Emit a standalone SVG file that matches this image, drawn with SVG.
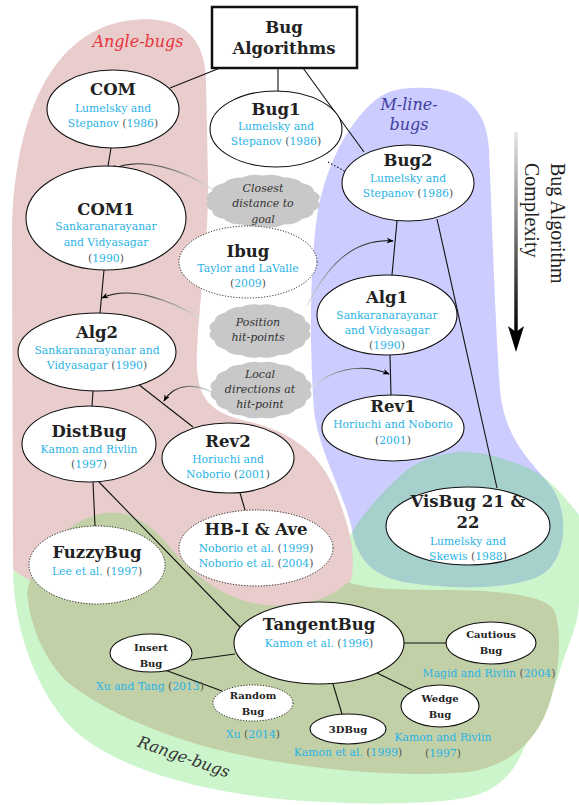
<svg xmlns="http://www.w3.org/2000/svg" xmlns:xlink="http://www.w3.org/1999/xlink" width="579" height="805" viewBox="0 0 579 805">
  <style>
    .n ellipse { fill: #fff; stroke: #111; stroke-width: 1.1; }
    .n ellipse.dot { stroke-dasharray: 1.1 1.7; stroke-width: 1; }
    .t { font-family: "DejaVu Serif", serif; font-weight: bold; fill: #222; text-anchor: middle; font-size: 16.5px; }
    .ts { font-size: 10px; }
    .c { font-family: "DejaVu Serif", serif; font-size: 10.8px; fill: #2ab3e6; text-anchor: middle; }
    .p { fill: #555; }
    .cl { font-family: "DejaVu Serif", serif; font-style: italic; font-size: 11px; fill: #333; text-anchor: middle; }
    .reg { font-family: "DejaVu Serif", serif; font-style: italic; font-size: 16px; text-anchor: middle; }
    .edge line { stroke: #111; stroke-width: 1.1; }
    .hint { fill: none; stroke-width: 1.1; marker-end: url(#ah); }
    .cloud { fill: #c8c8c8; }
  </style>
  <defs>
    <marker id="ah" viewBox="0 0 10 10" refX="9" refY="5" markerWidth="7" markerHeight="7" orient="auto" markerUnits="userSpaceOnUse">
      <path d="M0,1 L10,5 L0,9 L3,5 Z" fill="#000"/>
    </marker>
    <!-- scalloped blob, unit radius 100, 16 shallow bumps -->
    <path id="cloudShape" d="M100,0 Q108.9,21.7 92.39,38.27 Q92.3,61.7 70.71,70.71 Q61.7,92.3 38.27,92.39 Q21.7,108.9 0,100 Q-21.7,108.9 -38.27,92.39 Q-61.7,92.3 -70.71,70.71 Q-92.3,61.7 -92.39,38.27 Q-108.9,21.7 -100,0 Q-108.9,-21.7 -92.39,-38.27 Q-92.3,-61.7 -70.71,-70.71 Q-61.7,-92.3 -38.27,-92.39 Q-21.7,-108.9 0,-100 Q21.7,-108.9 38.27,-92.39 Q61.7,-92.3 70.71,-70.71 Q92.3,-61.7 92.39,-38.27 Q108.9,-21.7 100,0 Z"/>
    <path id="greenShape" d="M13,572 C14,620 30,680 67,723 C100,760 180,790 290,800 C360,805 430,805 470,797 C500,790 515,770 523,750 C540,720 555,690 560,670 C570,640 579,623 579,600 L579,515 C560,490 540,470 520,465 C495,455 470,450 457,452 C430,455 410,465 398,478 C380,495 360,515 345,545 L180,520 Z"/>
    <path id="blueShape" d="M415,88 C460,86 487,105 489,150 C492,220 495,320 500,390 C505,440 530,460 550,485 C568,508 568,550 548,570 C525,590 460,590 410,583 C375,578 357,560 352,530 C345,495 318,450 314,410 C309,340 310,260 318,210 C328,160 350,120 378,98 C390,90 402,88 415,88 Z"/>
    <clipPath id="clipBlue"><use xlink:href="#blueShape"/></clipPath>
    <linearGradient id="g1" gradientUnits="userSpaceOnUse" x1="213" y1="190" x2="111" y2="170"><stop offset="0" stop-color="#e4e4e4"/><stop offset="0.6" stop-color="#555"/><stop offset="1" stop-color="#000"/></linearGradient>
    <linearGradient id="g2" gradientUnits="userSpaceOnUse" x1="200" y1="318" x2="102" y2="298"><stop offset="0" stop-color="#e4e4e4"/><stop offset="0.6" stop-color="#555"/><stop offset="1" stop-color="#000"/></linearGradient>
    <linearGradient id="g3" gradientUnits="userSpaceOnUse" x1="307" y1="306" x2="393" y2="241"><stop offset="0" stop-color="#e4e4e4"/><stop offset="0.6" stop-color="#555"/><stop offset="1" stop-color="#000"/></linearGradient>
    <linearGradient id="g4" gradientUnits="userSpaceOnUse" x1="213" y1="393" x2="164" y2="401"><stop offset="0" stop-color="#e4e4e4"/><stop offset="0.6" stop-color="#555"/><stop offset="1" stop-color="#000"/></linearGradient>
    <linearGradient id="g5" gradientUnits="userSpaceOnUse" x1="312" y1="388" x2="389" y2="374"><stop offset="0" stop-color="#e4e4e4"/><stop offset="0.6" stop-color="#555"/><stop offset="1" stop-color="#000"/></linearGradient>
    <linearGradient id="gArrow" gradientUnits="userSpaceOnUse" x1="516" y1="132" x2="516" y2="335"><stop offset="0" stop-color="#e6e6e6"/><stop offset="1" stop-color="#000"/></linearGradient>
  </defs>

  <!-- family regions -->
  <g id="regions">
    <use xlink:href="#greenShape" fill="#ccf5cc"/>
    <path id="angle-region" fill="#e9cccc" d="M13,570 L12,240 C12,130 45,35 125,21 C185,12 205,40 206,80 L208,180 C209,240 199,300 197,350 C195,395 205,412 250,422 C295,432 322,458 335,490 C345,515 356,545 352,575 C348,600 320,612 300,612 L200,620 L60,600 Z"/>
    <path id="range-core" fill="#c1d0a6" d="M27,592 C35,555 65,522 100,514 C128,508 148,522 168,545 C190,572 222,600 265,605 C300,609 333,598 348,582 C365,589 400,590 440,590 C500,590 548,595 555,612 C565,645 555,700 540,725 C525,750 505,765 470,772 C400,778 290,770 200,745 C140,727 95,705 65,680 C42,655 30,625 27,592 Z"/>
    <use xlink:href="#blueShape" fill="#ccccff"/>
    <use xlink:href="#greenShape" fill="#a6d0cc" clip-path="url(#clipBlue)"/>
    <text class="reg" x="138" y="47" fill="#e8333c">Angle-bugs</text>
    <text class="reg" x="409" y="110" fill="#4040a0" font-size="15.5">M-line-</text>
    <text class="reg" x="409" y="130" fill="#4040a0" font-size="15.5">bugs</text>
    <text class="reg" fill="#333" transform="translate(182,762) rotate(19)">Range-bugs</text>
  </g>

  <!-- complexity axis -->
  <g id="axis">
    <line x1="516" y1="132" x2="516" y2="334" stroke="url(#gArrow)" stroke-width="3.5"/>
    <path d="M516,352 L508,326 L516,332 L524,326 Z" fill="#000"/>
    <text font-family="Liberation Serif, serif" font-size="20" fill="#222" transform="translate(551,163) rotate(90)">Bug Algorithm</text>
    <text font-family="Liberation Serif, serif" font-size="20" fill="#222" transform="translate(525,163) rotate(90)">Complexity</text>
  </g>

  <!-- connectors -->
  <g id="connectors" class="edge">
    <line x1="220" y1="68" x2="170" y2="88"/>
    <line x1="278" y1="68" x2="278" y2="91"/>
    <line x1="303" y1="68" x2="364" y2="152"/>
    <line x1="328" y1="162" x2="346" y2="172" stroke-dasharray="1.5 2"/>
    <line x1="111" y1="148" x2="108" y2="166"/>
    <line x1="104" y1="270" x2="100" y2="313"/>
    <line x1="93" y1="391" x2="92" y2="406"/>
    <line x1="138" y1="384" x2="193" y2="427"/>
    <line x1="397" y1="221" x2="392" y2="275"/>
    <line x1="390" y1="355" x2="391" y2="395"/>
    <line x1="437" y1="219" x2="497" y2="488"/>
    <line x1="93" y1="482" x2="95" y2="526"/>
    <line x1="99" y1="482" x2="240" y2="627"/>
    <line x1="240" y1="493" x2="245" y2="510"/>
    <line x1="235" y1="654" x2="191" y2="660"/>
    <line x1="165" y1="670" x2="222" y2="691"/>
    <line x1="404" y1="643" x2="446" y2="643"/>
    <line x1="377" y1="673" x2="412" y2="690"/>
    <line x1="333" y1="684" x2="342" y2="714"/>
    <path class="hint" stroke="url(#g1)" d="M213,190 C185,170 140,155 111,170"/>
    <path class="hint" stroke="url(#g2)" d="M200,318 C170,300 130,285 102,298"/>
    <path class="hint" stroke="url(#g3)" d="M307,306 C325,270 350,238 393,241"/>
    <path class="hint" stroke="url(#g4)" d="M213,393 C198,384 175,382 164,401"/>
    <path class="hint" stroke="url(#g5)" d="M312,388 C330,370 360,362 389,374"/>
  </g>

  <!-- technique clouds -->
  <g id="cloud-closest">
    <use xlink:href="#cloudShape" class="cloud" transform="translate(263,201) scale(0.55,0.255)"/>
    <text class="cl" x="263" y="192">Closest</text>
    <text class="cl" x="263" y="207">distance to</text>
    <text class="cl" x="263" y="223">goal</text>
  </g>
  <g id="cloud-position">
    <use xlink:href="#cloudShape" class="cloud" transform="translate(260,331) scale(0.49,0.26)"/>
    <text class="cl" x="258" y="326">Position</text>
    <text class="cl" x="258" y="341">hit-points</text>
  </g>
  <g id="cloud-local">
    <use xlink:href="#cloudShape" class="cloud" transform="translate(261,390) scale(0.49,0.275)"/>
    <text class="cl" x="260" y="378">Local</text>
    <text class="cl" x="260" y="393">directions at</text>
    <text class="cl" x="260" y="408">hit-point</text>
  </g>

  <!-- nodes -->
  <g id="root">
    <rect x="212" y="7" width="145" height="61" fill="#fff" stroke="#111" stroke-width="2.5"/>
    <text class="t" x="284" y="33" font-size="17">Bug</text>
    <text class="t" x="284" y="54" font-size="17">Algorithms</text>
  </g>
  <g id="com" class="n">
    <ellipse cx="113" cy="109" rx="66" ry="39"/>
    <text class="t" x="113" y="95">COM</text>
    <text class="c" x="113" y="112">Lumelsky and</text>
    <text class="c" x="113" y="127">Stepanov <tspan class="p">(</tspan>1986<tspan class="p">)</tspan></text>
  </g>
  <g id="bug1" class="n">
    <ellipse cx="276" cy="129" rx="66" ry="38"/>
    <text class="t" x="276" y="115">Bug1</text>
    <text class="c" x="276" y="130">Lumelsky and</text>
    <text class="c" x="276" y="145">Stepanov <tspan class="p">(</tspan>1986<tspan class="p">)</tspan></text>
  </g>
  <g id="bug2" class="n">
    <ellipse cx="408" cy="183" rx="66" ry="38"/>
    <text class="t" x="408" y="166">Bug2</text>
    <text class="c" x="408" y="182">Lumelsky and</text>
    <text class="c" x="408" y="197">Stepanov <tspan class="p">(</tspan>1986<tspan class="p">)</tspan></text>
  </g>
  <g id="com1" class="n">
    <ellipse cx="106" cy="218" rx="80" ry="52"/>
    <text class="t" x="106" y="215">COM1</text>
    <text class="c" x="106" y="230">Sankaranarayanar</text>
    <text class="c" x="106" y="246">and Vidyasagar</text>
    <text class="c" x="106" y="262"><tspan class="p">(</tspan>1990<tspan class="p">)</tspan></text>
  </g>
  <g id="ibug" class="n">
    <ellipse class="dot" cx="248" cy="262" rx="69" ry="36"/>
    <text class="t" x="248" y="257">Ibug</text>
    <text class="c" x="248" y="272">Taylor and LaValle</text>
    <text class="c" x="248" y="287"><tspan class="p">(</tspan>2009<tspan class="p">)</tspan></text>
  </g>
  <g id="alg2" class="n">
    <ellipse cx="97" cy="352" rx="79" ry="39"/>
    <text class="t" x="97" y="338">Alg2</text>
    <text class="c" x="97" y="354">Sankaranarayanar and</text>
    <text class="c" x="97" y="369">Vidyasagar <tspan class="p">(</tspan>1990<tspan class="p">)</tspan></text>
  </g>
  <g id="alg1" class="n">
    <ellipse cx="387" cy="315" rx="70" ry="40"/>
    <text class="t" x="387" y="303">Alg1</text>
    <text class="c" x="387" y="319">Sankaranarayanar</text>
    <text class="c" x="387" y="334">and Vidyasagar</text>
    <text class="c" x="387" y="349"><tspan class="p">(</tspan>1990<tspan class="p">)</tspan></text>
  </g>
  <g id="rev1" class="n">
    <ellipse cx="393" cy="428" rx="71" ry="33"/>
    <text class="t" x="393" y="412">Rev1</text>
    <text class="c" x="393" y="428">Horiuchi and Noborio</text>
    <text class="c" x="393" y="444"><tspan class="p">(</tspan>2001<tspan class="p">)</tspan></text>
  </g>
  <g id="distbug" class="n">
    <ellipse cx="89" cy="444" rx="67" ry="38"/>
    <text class="t" x="89" y="437">DistBug</text>
    <text class="c" x="89" y="453">Kamon and Rivlin</text>
    <text class="c" x="89" y="468"><tspan class="p">(</tspan>1997<tspan class="p">)</tspan></text>
  </g>
  <g id="rev2" class="n">
    <ellipse cx="228" cy="458" rx="66" ry="35"/>
    <text class="t" x="228" y="447">Rev2</text>
    <text class="c" x="228" y="463">Horiuchi and</text>
    <text class="c" x="228" y="478">Noborio <tspan class="p">(</tspan>2001<tspan class="p">)</tspan></text>
  </g>
  <g id="visbug" class="n">
    <ellipse cx="468" cy="526" rx="82" ry="39"/>
    <text class="t" x="468" y="507">VisBug 21 &amp;</text>
    <text class="t" x="468" y="528">22</text>
    <text class="c" x="468" y="545">Lumelsky and</text>
    <text class="c" x="468" y="560">Skewis <tspan class="p">(</tspan>1988<tspan class="p">)</tspan></text>
  </g>
  <g id="hbi-ave" class="n">
    <ellipse class="dot" cx="256" cy="548" rx="77" ry="38"/>
    <text class="t" x="256" y="535">HB-I &amp; Ave</text>
    <text class="c" x="256" y="552">Noborio et al. <tspan class="p">(</tspan>1999<tspan class="p">)</tspan></text>
    <text class="c" x="256" y="567">Noborio et al. <tspan class="p">(</tspan>2004<tspan class="p">)</tspan></text>
  </g>
  <g id="fuzzybug" class="n">
    <ellipse class="dot" cx="97" cy="565" rx="68" ry="39"/>
    <text class="t" x="97" y="558">FuzzyBug</text>
    <text class="c" x="97" y="575">Lee et al. <tspan class="p">(</tspan>1997<tspan class="p">)</tspan></text>
  </g>
  <g id="tangentbug" class="n">
    <ellipse cx="319" cy="643" rx="85" ry="41"/>
    <text class="t" x="319" y="630">TangentBug</text>
    <text class="c" x="319" y="647">Kamon et al. <tspan class="p">(</tspan>1996<tspan class="p">)</tspan></text>
  </g>
  <g id="insertbug" class="n">
    <ellipse cx="151" cy="653" rx="41" ry="19"/>
    <text class="t ts" x="151" y="651">Insert</text>
    <text class="t ts" x="151" y="667">Bug</text>
    <text class="c" x="150" y="690">Xu and Tang <tspan class="p">(</tspan>2013<tspan class="p">)</tspan></text>
  </g>
  <g id="randombug" class="n">
    <ellipse class="dot" cx="253" cy="703" rx="40" ry="18"/>
    <text class="t ts" x="253" y="699">Random</text>
    <text class="t ts" x="253" y="715">Bug</text>
    <text class="c" x="253" y="738">Xu <tspan class="p">(</tspan>2014<tspan class="p">)</tspan></text>
  </g>
  <g id="cautiousbug" class="n">
    <ellipse cx="491" cy="643" rx="45" ry="21"/>
    <text class="t ts" x="491" y="638">Cautious</text>
    <text class="t ts" x="491" y="654">Bug</text>
    <text class="c" x="489" y="677">Magid and Rivlin <tspan class="p">(</tspan>2004<tspan class="p">)</tspan></text>
  </g>
  <g id="wedgebug" class="n">
    <ellipse cx="440" cy="706" rx="39" ry="21"/>
    <text class="t ts" x="440" y="702">Wedge</text>
    <text class="t ts" x="440" y="718">Bug</text>
    <text class="c" x="443" y="741">Kamon and Rivlin</text>
    <text class="c" x="443" y="757"><tspan class="p">(</tspan>1997<tspan class="p">)</tspan></text>
  </g>
  <g id="bug3d" class="n">
    <ellipse cx="348" cy="729" rx="38" ry="15"/>
    <text class="t ts" x="348" y="733">3DBug</text>
    <text class="c" x="348" y="756">Kamon et al. <tspan class="p">(</tspan>1999<tspan class="p">)</tspan></text>
  </g>
</svg>
